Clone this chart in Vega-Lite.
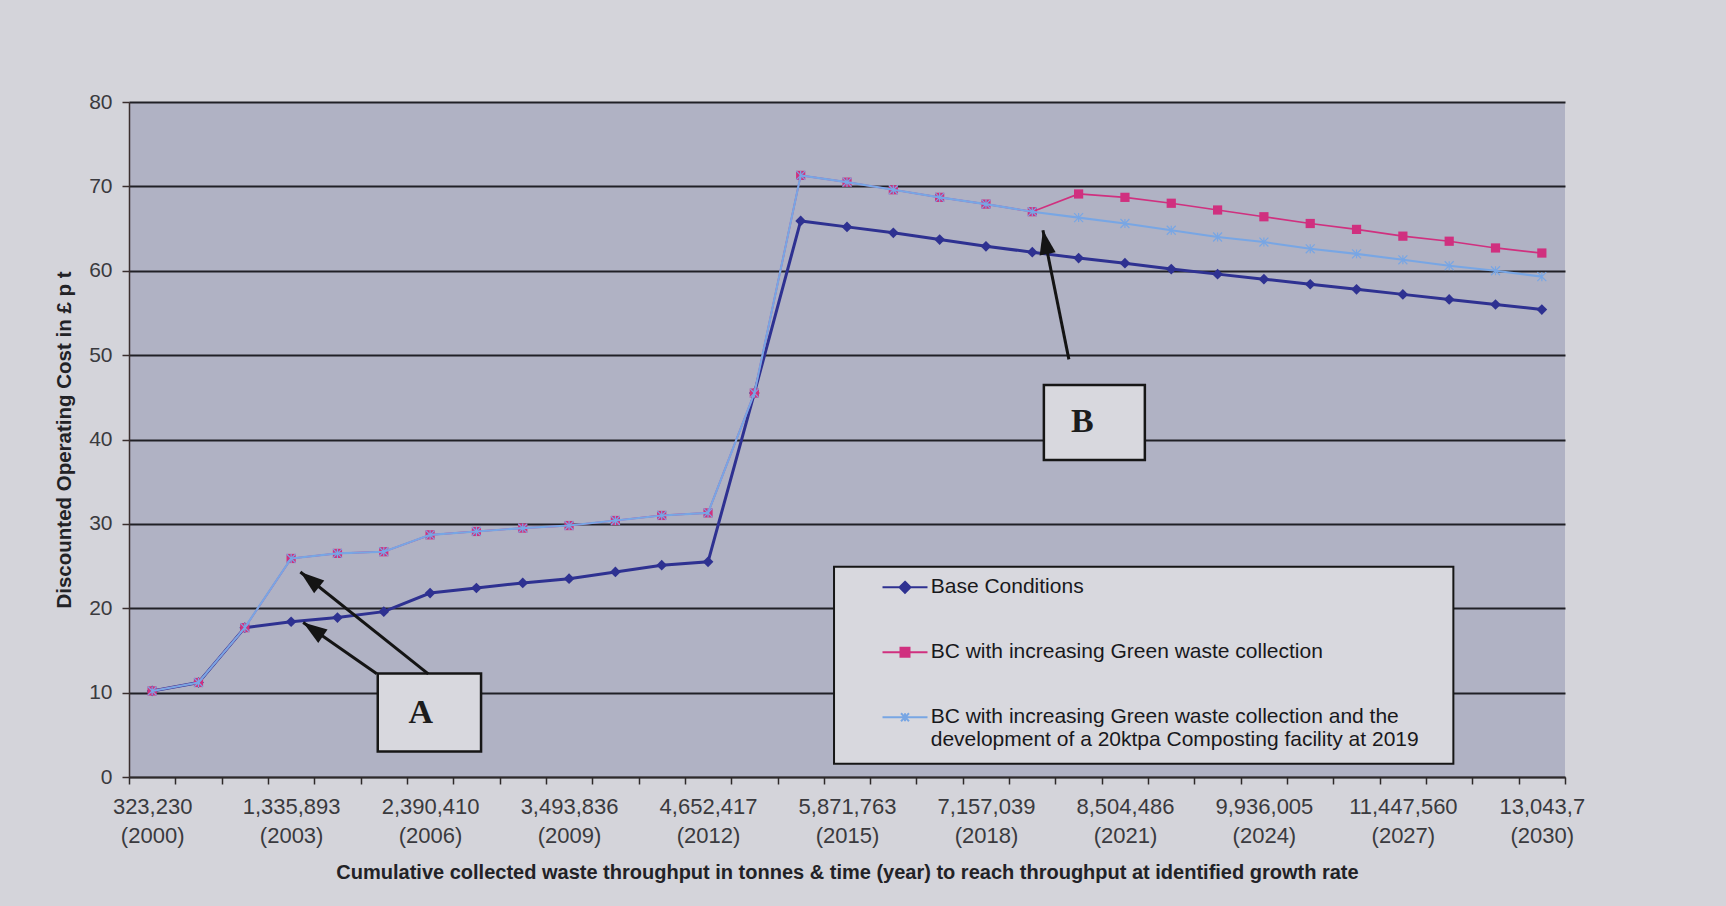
{
  "$schema": "https://vega.github.io/schema/vega-lite/v6.json",
  "width": 1436,
  "height": 675,
  "autosize": {"type": "none"},
  "padding": {"left": 129, "top": 102, "right": 161, "bottom": 129},
  "background": "#d4d4da",
  "config": {
    "view": {"fill": "#b0b2c4", "stroke": null}
  },
  "layer": [
    {
      "data": {
        "values": [
          {"year": 2000, "Base Conditions": 10.2, "BC with increasing Green waste collection": 10.2, "BC with increasing Green waste collection and the development of a 20ktpa Composting facility at 2019": 10.2},
          {"year": 2001, "Base Conditions": 11.2, "BC with increasing Green waste collection": 11.2, "BC with increasing Green waste collection and the development of a 20ktpa Composting facility at 2019": 11.2},
          {"year": 2002, "Base Conditions": 17.7, "BC with increasing Green waste collection": 17.7, "BC with increasing Green waste collection and the development of a 20ktpa Composting facility at 2019": 17.7},
          {"year": 2003, "Base Conditions": 18.4, "BC with increasing Green waste collection": 25.9, "BC with increasing Green waste collection and the development of a 20ktpa Composting facility at 2019": 25.9},
          {"year": 2004, "Base Conditions": 18.9, "BC with increasing Green waste collection": 26.5, "BC with increasing Green waste collection and the development of a 20ktpa Composting facility at 2019": 26.5},
          {"year": 2005, "Base Conditions": 19.6, "BC with increasing Green waste collection": 26.7, "BC with increasing Green waste collection and the development of a 20ktpa Composting facility at 2019": 26.7},
          {"year": 2006, "Base Conditions": 21.8, "BC with increasing Green waste collection": 28.7, "BC with increasing Green waste collection and the development of a 20ktpa Composting facility at 2019": 28.7},
          {"year": 2007, "Base Conditions": 22.4, "BC with increasing Green waste collection": 29.1, "BC with increasing Green waste collection and the development of a 20ktpa Composting facility at 2019": 29.1},
          {"year": 2008, "Base Conditions": 23.0, "BC with increasing Green waste collection": 29.5, "BC with increasing Green waste collection and the development of a 20ktpa Composting facility at 2019": 29.5},
          {"year": 2009, "Base Conditions": 23.5, "BC with increasing Green waste collection": 29.8, "BC with increasing Green waste collection and the development of a 20ktpa Composting facility at 2019": 29.8},
          {"year": 2010, "Base Conditions": 24.3, "BC with increasing Green waste collection": 30.4, "BC with increasing Green waste collection and the development of a 20ktpa Composting facility at 2019": 30.4},
          {"year": 2011, "Base Conditions": 25.1, "BC with increasing Green waste collection": 31.0, "BC with increasing Green waste collection and the development of a 20ktpa Composting facility at 2019": 31.0},
          {"year": 2012, "Base Conditions": 25.5, "BC with increasing Green waste collection": 31.3, "BC with increasing Green waste collection and the development of a 20ktpa Composting facility at 2019": 31.3},
          {"year": 2013, "Base Conditions": 45.5, "BC with increasing Green waste collection": 45.5, "BC with increasing Green waste collection and the development of a 20ktpa Composting facility at 2019": 45.5},
          {"year": 2014, "Base Conditions": 65.9, "BC with increasing Green waste collection": 71.3, "BC with increasing Green waste collection and the development of a 20ktpa Composting facility at 2019": 71.3},
          {"year": 2015, "Base Conditions": 65.2, "BC with increasing Green waste collection": 70.5, "BC with increasing Green waste collection and the development of a 20ktpa Composting facility at 2019": 70.5},
          {"year": 2016, "Base Conditions": 64.5, "BC with increasing Green waste collection": 69.6, "BC with increasing Green waste collection and the development of a 20ktpa Composting facility at 2019": 69.6},
          {"year": 2017, "Base Conditions": 63.7, "BC with increasing Green waste collection": 68.7, "BC with increasing Green waste collection and the development of a 20ktpa Composting facility at 2019": 68.7},
          {"year": 2018, "Base Conditions": 62.9, "BC with increasing Green waste collection": 67.9, "BC with increasing Green waste collection and the development of a 20ktpa Composting facility at 2019": 67.9},
          {"year": 2019, "Base Conditions": 62.2, "BC with increasing Green waste collection": 67.0, "BC with increasing Green waste collection and the development of a 20ktpa Composting facility at 2019": 67.0},
          {"year": 2020, "Base Conditions": 61.5, "BC with increasing Green waste collection": 69.1, "BC with increasing Green waste collection and the development of a 20ktpa Composting facility at 2019": 66.3},
          {"year": 2021, "Base Conditions": 60.9, "BC with increasing Green waste collection": 68.7, "BC with increasing Green waste collection and the development of a 20ktpa Composting facility at 2019": 65.6},
          {"year": 2022, "Base Conditions": 60.2, "BC with increasing Green waste collection": 68.0, "BC with increasing Green waste collection and the development of a 20ktpa Composting facility at 2019": 64.8},
          {"year": 2023, "Base Conditions": 59.6, "BC with increasing Green waste collection": 67.2, "BC with increasing Green waste collection and the development of a 20ktpa Composting facility at 2019": 64.0},
          {"year": 2024, "Base Conditions": 59.0, "BC with increasing Green waste collection": 66.4, "BC with increasing Green waste collection and the development of a 20ktpa Composting facility at 2019": 63.4},
          {"year": 2025, "Base Conditions": 58.4, "BC with increasing Green waste collection": 65.6, "BC with increasing Green waste collection and the development of a 20ktpa Composting facility at 2019": 62.6},
          {"year": 2026, "Base Conditions": 57.8, "BC with increasing Green waste collection": 64.9, "BC with increasing Green waste collection and the development of a 20ktpa Composting facility at 2019": 62.0},
          {"year": 2027, "Base Conditions": 57.2, "BC with increasing Green waste collection": 64.1, "BC with increasing Green waste collection and the development of a 20ktpa Composting facility at 2019": 61.3},
          {"year": 2028, "Base Conditions": 56.6, "BC with increasing Green waste collection": 63.5, "BC with increasing Green waste collection and the development of a 20ktpa Composting facility at 2019": 60.6},
          {"year": 2029, "Base Conditions": 56.0, "BC with increasing Green waste collection": 62.7, "BC with increasing Green waste collection and the development of a 20ktpa Composting facility at 2019": 60.0},
          {"year": 2030, "Base Conditions": 55.4, "BC with increasing Green waste collection": 62.1, "BC with increasing Green waste collection and the development of a 20ktpa Composting facility at 2019": 59.3}
        ]
      },
      "encoding": {
        "x": {
          "field": "year",
          "type": "quantitative",
          "scale": {"domain": [1999.5, 2030.5], "nice": false, "zero": false},
          "axis": {
            "title": "Cumulative collected waste throughput in tonnes & time (year) to reach throughput at identified growth rate",
            "values": [1999.5, 2000.5, 2001.5, 2002.5, 2003.5, 2004.5, 2005.5, 2006.5, 2007.5, 2008.5, 2009.5, 2010.5, 2011.5, 2012.5, 2013.5, 2014.5, 2015.5, 2016.5, 2017.5, 2018.5, 2019.5, 2020.5, 2021.5, 2022.5, 2023.5, 2024.5, 2025.5, 2026.5, 2027.5, 2028.5, 2029.5, 2030.5],
            "labelExpr": "datum.value == 1999.5 ? ['323,230', '(2000)'] : datum.value == 2002.5 ? ['1,335,893', '(2003)'] : datum.value == 2005.5 ? ['2,390,410', '(2006)'] : datum.value == 2008.5 ? ['3,493,836', '(2009)'] : datum.value == 2011.5 ? ['4,652,417', '(2012)'] : datum.value == 2014.5 ? ['5,871,763', '(2015)'] : datum.value == 2017.5 ? ['7,157,039', '(2018)'] : datum.value == 2020.5 ? ['8,504,486', '(2021)'] : datum.value == 2023.5 ? ['9,936,005', '(2024)'] : datum.value == 2026.5 ? ['11,447,560', '(2027)'] : datum.value == 2029.5 ? ['13,043,7', '(2030)'] : ''",
            "labelOffset": 23.16,
            "labelAngle": 0,
            "labelAlign": "center",
            "labelOverlap": false,
            "labelFlush": false,
            "labelFont": "'Liberation Sans', Arial, sans-serif",
            "labelFontSize": 22,
            "labelLineHeight": 29,
            "labelColor": "#3a3a3e",
            "labelPadding": 12,
            "tickSize": 7,
            "tickWidth": 1.5,
            "tickColor": "#2e2a2a",
            "domainColor": "#2e2a2a",
            "domainWidth": 1.5,
            "grid": false,
            "titleFont": "'Liberation Sans', Arial, sans-serif",
            "titleFontWeight": "bold",
            "titleFontSize": 20,
            "titleColor": "#222226",
            "titlePadding": 16
          }
        }
      },
      "layer": [
        {
          "mark": {"type": "line", "color": "#2e3191", "strokeWidth": 3},
          "encoding": {
            "y": {
              "field": "Base Conditions",
              "type": "quantitative",
              "scale": {"domain": [0, 80], "nice": false, "zero": false},
              "axis": {
                "title": "Discounted Operating Cost in £ p t",
                "values": [0, 10, 20, 30, 40, 50, 60, 70, 80],
                "grid": true,
                "gridColor": "#202026",
                "gridWidth": 1.8,
                "domainColor": "#3a2e2e",
                "domainWidth": 1.5,
                "tickColor": "#3a2e2e",
                "tickWidth": 1.5,
                "tickSize": 7,
                "labelFont": "'Liberation Sans', Arial, sans-serif",
                "labelFontSize": 21,
                "labelColor": "#3a3a3e",
                "labelPadding": 10,
                "titleFont": "'Liberation Sans', Arial, sans-serif",
                "titleFontWeight": "bold",
                "titleFontSize": 20.5,
                "titleColor": "#222226",
                "titlePadding": 14
              }
            }
          }
        },
        {
          "mark": {"type": "point", "shape": "diamond", "filled": true, "color": "#2e3191", "size": 115, "opacity": 1},
          "encoding": {"y": {"field": "Base Conditions", "type": "quantitative"}}
        },
        {
          "mark": {"type": "line", "color": "#d0307f", "strokeWidth": 1.7},
          "encoding": {"y": {"field": "BC with increasing Green waste collection", "type": "quantitative"}}
        },
        {
          "mark": {"type": "point", "shape": "square", "filled": true, "color": "#d0307f", "size": 85, "opacity": 1},
          "encoding": {"y": {"field": "BC with increasing Green waste collection", "type": "quantitative"}}
        },
        {
          "mark": {"type": "line", "color": "#78a6e4", "strokeWidth": 2.1},
          "encoding": {"y": {"field": "BC with increasing Green waste collection and the development of a 20ktpa Composting facility at 2019", "type": "quantitative"}}
        },
        {
          "mark": {"type": "point", "shape": "M-1,-1L1,1M-1,1L1,-1M0,-1L0,1", "filled": false, "color": "#78a6e4", "strokeWidth": 1.2, "size": 80, "opacity": 1},
          "encoding": {"y": {"field": "BC with increasing Green waste collection and the development of a 20ktpa Composting facility at 2019", "type": "quantitative"}}
        },
        {
          "transform": [
            {"fold": ["Base Conditions", "BC with increasing Green waste collection", "BC with increasing Green waste collection and the development of a 20ktpa Composting facility at 2019"], "as": ["series", "cost"]}
          ],
          "mark": {"type": "point", "size": 0, "opacity": 0},
          "encoding": {
            "y": {"field": "cost", "type": "quantitative"},
            "fill": {
              "field": "series",
              "type": "nominal",
              "scale": {
                "domain": ["Base Conditions", "BC with increasing Green waste collection", "BC with increasing Green waste collection and the development of a 20ktpa Composting facility at 2019"],
                "range": ["#2e3191", "#d0307f", "#78a6e4"]
              },
              "legend": {
                "title": null,
                "orient": "none",
                "legendX": 765.5,
                "legendY": 474.8,
                "padding": 0,
                "symbolSize": 100,
                "symbolOpacity": 1,
                "symbolStrokeWidth": 2,
                "labelFont": "'Liberation Sans', Arial, sans-serif",
                "labelFontSize": 21,
                "labelColor": "#18181c",
                "labelLimit": 900,
                "labelOffset": 15.2,
                "labelBaseline": "middle",
                "labelLineHeight": 29.5,
                "rowPadding": 43,
                "labelExpr": "indexof(datum.label, ' development') > 0 ? [substring(datum.label, 0, indexof(datum.label, ' development')), substring(datum.label, indexof(datum.label, ' development') + 1)] : datum.label"
              }
            },
            "stroke": {
              "field": "series",
              "type": "nominal",
              "scale": {
                "domain": ["Base Conditions", "BC with increasing Green waste collection", "BC with increasing Green waste collection and the development of a 20ktpa Composting facility at 2019"],
                "range": ["#2e3191", "#d0307f", "#78a6e4"]
              },
              "legend": {"title": null}
            },
            "shape": {
              "field": "series",
              "type": "nominal",
              "scale": {
                "domain": ["Base Conditions", "BC with increasing Green waste collection", "BC with increasing Green waste collection and the development of a 20ktpa Composting facility at 2019"],
                "range": [
                  "M-4.5,0L4.5,0M0,-1.1L1.1,0L0,1.1L-1.1,0ZM0,-0.7L0.7,0L0,0.7L-0.7,0ZM0,-0.3L0.3,0L0,0.3L-0.3,0Z",
                  "M-4.5,0L4.5,0M-0.9,-0.9L0.9,-0.9L0.9,0.9L-0.9,0.9ZM-0.5,-0.5L0.5,-0.5L0.5,0.5L-0.5,0.5ZM-0.1,-0.1L0.1,-0.1L0.1,0.1L-0.1,0.1Z",
                  "M-4.5,0L4.5,0M-0.8,-0.8L0.8,0.8M-0.8,0.8L0.8,-0.8M0,-0.8L0,0.8"
                ]
              },
              "legend": {"title": null}
            }
          }
        }
      ]
    },
    {
      "data": {"values": [{}]},
      "layer": [
        {
          "mark": {"type": "rect", "fill": "#d8d8de", "stroke": "#161616", "strokeWidth": 2},
          "encoding": {
            "x": {"datum": 2014.72, "type": "quantitative"},
            "x2": {"datum": 2028.09},
            "y": {"datum": 24.91, "type": "quantitative"},
            "y2": {"datum": 1.57}
          }
        },
        {
          "mark": {"type": "rect", "fill": "#d8d8de", "stroke": "#161616", "strokeWidth": 2.5},
          "encoding": {
            "x": {"datum": 2004.87, "type": "quantitative"},
            "x2": {"datum": 2007.1},
            "y": {"datum": 12.27, "type": "quantitative"},
            "y2": {"datum": 3.01}
          }
        },
        {
          "mark": {"type": "text", "text": "A", "font": "'Liberation Serif', serif", "fontWeight": "bold", "fontSize": 34, "color": "#1c1c1c"},
          "encoding": {
            "x": {"datum": 2005.8, "type": "quantitative"},
            "y": {"datum": 7.6, "type": "quantitative"}
          }
        },
        {
          "mark": {"type": "rect", "fill": "#d8d8de", "stroke": "#161616", "strokeWidth": 2.5},
          "encoding": {
            "x": {"datum": 2019.25, "type": "quantitative"},
            "x2": {"datum": 2021.43},
            "y": {"datum": 46.45, "type": "quantitative"},
            "y2": {"datum": 37.58}
          }
        },
        {
          "mark": {"type": "text", "text": "B", "font": "'Liberation Serif', serif", "fontWeight": "bold", "fontSize": 34, "color": "#1c1c1c"},
          "encoding": {
            "x": {"datum": 2020.08, "type": "quantitative"},
            "y": {"datum": 42.1, "type": "quantitative"}
          }
        },
        {
          "mark": {"type": "rule", "color": "#141414", "strokeWidth": 3},
          "encoding": {
            "x": {"datum": 2005.96, "type": "quantitative"},
            "y": {"datum": 12.23, "type": "quantitative"},
            "x2": {"datum": 2003.2},
            "y2": {"datum": 24.3}
          }
        },
        {
          "mark": {"type": "rule", "color": "#141414", "strokeWidth": 3},
          "encoding": {
            "x": {"datum": 2004.85, "type": "quantitative"},
            "y": {"datum": 12.23, "type": "quantitative"},
            "x2": {"datum": 2003.26},
            "y2": {"datum": 18.3}
          }
        },
        {
          "mark": {"type": "rule", "color": "#141414", "strokeWidth": 3},
          "encoding": {
            "x": {"datum": 2019.79, "type": "quantitative"},
            "y": {"datum": 49.5, "type": "quantitative"},
            "x2": {"datum": 2019.23},
            "y2": {"datum": 64.8}
          }
        },
        {
          "mark": {"type": "point", "shape": "M0,0L0.34,1L-0.34,1Z", "filled": true, "color": "#141414", "size": 2304, "opacity": 1, "angle": 308.5},
          "encoding": {
            "x": {"datum": 2003.2, "type": "quantitative"},
            "y": {"datum": 24.3, "type": "quantitative"}
          }
        },
        {
          "mark": {"type": "point", "shape": "M0,0L0.34,1L-0.34,1Z", "filled": true, "color": "#141414", "size": 2304, "opacity": 1, "angle": 304.7},
          "encoding": {
            "x": {"datum": 2003.26, "type": "quantitative"},
            "y": {"datum": 18.3, "type": "quantitative"}
          }
        },
        {
          "mark": {"type": "point", "shape": "M0,0L0.34,1L-0.34,1Z", "filled": true, "color": "#141414", "size": 2304, "opacity": 1, "angle": 348.7},
          "encoding": {
            "x": {"datum": 2019.23, "type": "quantitative"},
            "y": {"datum": 64.8, "type": "quantitative"}
          }
        }
      ]
    }
  ]
}
